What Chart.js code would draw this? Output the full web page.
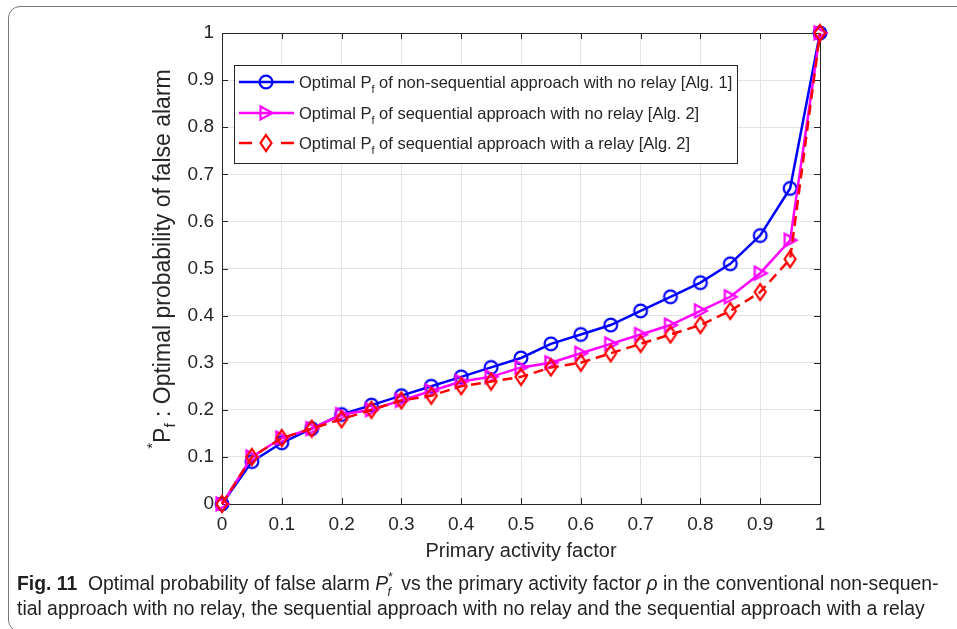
<!DOCTYPE html>
<html>
<head>
<meta charset="utf-8">
<script src="https://cdn.jsdelivr.net/npm/chart.js@4.4.1/dist/chart.umd.min.js"></script>
<style>
  body { margin: 0; background: #fff; width: 957px; height: 629px; overflow: hidden; position: relative; }
  #frame { position: absolute; left: 8px; top: 6px; width: 990px; height: 626px; border: 1.5px solid #777; border-radius: 12px; box-sizing: border-box; }
  #wrap { position: absolute; left: 0; top: 0; width: 957px; height: 570px; }
  #caption { position: absolute; left: 17px; top: 570px; font-family: 'Liberation Sans', Arial, sans-serif; font-size: 20.5px; line-height: 25px; color: #231f20; white-space: nowrap; transform: scaleX(0.944); transform-origin: 0 0; }
  #caption b { font-weight: bold; }
  .pf { display: inline-block; position: relative; font-style: italic; width: 22px; }
  .pf .s { position: absolute; left: 13px; font-size: 13px; }
</style>
</head>
<body>
<div id="frame"></div>
<div id="wrap"><canvas id="chartPf"></canvas></div>
<div id="caption"><b>Fig. 11</b>&nbsp; Optimal probability of false alarm <span class="pf">P<span class="s" style="top:-6px">*</span><span class="s" style="top:9px">f</span></span> vs the primary activity factor <i>ρ</i> in the conventional non-sequen-<br>tial approach with no relay, the sequential approach with no relay and the sequential approach with a relay</div>
<script>
const rho = [0, 0.05, 0.1, 0.15, 0.2, 0.25, 0.3, 0.35, 0.4, 0.45, 0.5, 0.55, 0.6, 0.65, 0.7, 0.75, 0.8, 0.85, 0.9, 0.95, 1]
const pfNonSeq = [0, 0.09, 0.13, 0.16, 0.19, 0.21, 0.23, 0.25, 0.27, 0.29, 0.31, 0.34, 0.36, 0.38, 0.41, 0.44, 0.47, 0.51, 0.57, 0.67, 1]
const pfSeq = [0, 0.10, 0.14, 0.16, 0.19, 0.20, 0.22, 0.24, 0.26, 0.27, 0.29, 0.30, 0.32, 0.34, 0.36, 0.38, 0.41, 0.44, 0.49, 0.56, 1]
const pfRelay = [0, 0.10, 0.14, 0.16, 0.18, 0.20, 0.22, 0.23, 0.25, 0.26, 0.27, 0.29, 0.30, 0.32, 0.34, 0.36, 0.38, 0.41, 0.45, 0.52, 1]
const tickValues = [0, 0.1, 0.2, 0.3, 0.4, 0.5, 0.6, 0.7, 0.8, 0.9, 1]
const legendLabels = [
  ['Optimal P', 'f', ' of non-sequential approach with no relay [Alg. 1]'],
  ['Optimal P', 'f', ' of sequential approach with no relay [Alg. 2]'],
  ['Optimal P', 'f', ' of sequential approach with a relay [Alg. 2]']
]

const BLUE = '#0000ff'
const MAGENTA = '#ff00ff'
const RED = '#ff0000'
const AXIS = '#262626'
const FONT = "'Liberation Sans', Arial, sans-serif"

// marker images, MATLAB style hollow symbols
function marker(kind, color) {
  const c = document.createElement('canvas')
  c.width = 20
  c.height = 20
  const g = c.getContext('2d')
  g.strokeStyle = color
  g.lineWidth = 2.2
  g.beginPath()
  if (kind === 'o') {
    g.arc(10, 10, 6.4, 0, Math.PI * 2)
  } else if (kind === '>') {
    g.moveTo(4.5, 3.5)
    g.lineTo(16.5, 10)
    g.lineTo(4.5, 16.5)
    g.closePath()
  } else {
    g.moveTo(10, 2)
    g.lineTo(15.5, 10)
    g.lineTo(10, 18)
    g.lineTo(4.5, 10)
    g.closePath()
  }
  g.stroke()
  return c
}
const mkCircle = marker('o', BLUE)
const mkTri = marker('>', MAGENTA)
const mkDiamond = marker('d', RED)

const toXY = (ys) => ys.map((y, i) => ({ x: rho[i], y: y }))

const boxPlugin = {
  id: 'box',
  beforeDatasetsDraw(chart) {
    const { ctx, chartArea: a, scales } = chart
    ctx.save()
    ctx.strokeStyle = AXIS
    ctx.lineWidth = 1
    ctx.strokeRect(a.left + 0.5, a.top + 0.5, a.right - a.left, a.bottom - a.top)
    ctx.beginPath()
    tickValues.forEach((v) => {
      const x = Math.round(scales.x.getPixelForValue(v)) + 0.5
      ctx.moveTo(x, a.bottom); ctx.lineTo(x, a.bottom - 6)
      ctx.moveTo(x, a.top); ctx.lineTo(x, a.top + 6)
      const y = Math.round(scales.y.getPixelForValue(v)) + 0.5
      ctx.moveTo(a.left, y); ctx.lineTo(a.left + 6, y)
      ctx.moveTo(a.right, y); ctx.lineTo(a.right - 6, y)
    })
    ctx.stroke()
    ctx.restore()
  },
  afterDraw(chart) {
    const { ctx, chartArea: a } = chart
    ctx.save()
    ctx.fillStyle = AXIS
    // x title
    ctx.font = '20px ' + FONT
    ctx.textAlign = 'center'
    ctx.textBaseline = 'middle'
    ctx.fillText('Primary activity factor', (a.left + a.right) / 2, 551)

    // y title, rotated, with sub/superscript
    ctx.translate(162, 259)
    ctx.rotate(-Math.PI / 2)
    ctx.textAlign = 'left'
    ctx.textBaseline = 'alphabetic'
    const big = '23px ' + FONT
    const small = '15px ' + FONT
    const rest = ' : Optimal probability of false alarm'
    ctx.font = small
    const wStar = ctx.measureText('*').width
    const wF = ctx.measureText('f').width
    ctx.font = big
    const wP = ctx.measureText('P').width
    const wRest = ctx.measureText(rest).width
    let x = -(wStar + wP + wF + wRest) / 2
    ctx.font = small
    ctx.fillText('*', x, -5)
    x += wStar
    ctx.font = big
    ctx.fillText('P', x, 8)
    x += wP
    ctx.font = small
    ctx.fillText('f', x, 13)
    x += wF
    ctx.font = big
    ctx.fillText(rest, x, 8)
    ctx.restore()

    // legend
    ctx.save()
    ctx.fillStyle = '#fff'
    ctx.fillRect(234, 65, 503, 98)
    ctx.strokeStyle = AXIS
    ctx.lineWidth = 1
    ctx.strokeRect(234.5, 65.5, 503, 98)
    const rows = [82, 113, 143]
    const cols = [BLUE, MAGENTA, RED]
    const marks = [mkCircle, mkTri, mkDiamond]
    rows.forEach((ry, i) => {
      ctx.strokeStyle = cols[i]
      ctx.lineWidth = 2.5
      ctx.beginPath()
      if (i === 2) {
        ctx.moveTo(239, ry); ctx.lineTo(252, ry)
        ctx.moveTo(281, ry); ctx.lineTo(294, ry)
      } else {
        ctx.moveTo(239, ry); ctx.lineTo(294, ry)
      }
      ctx.stroke()
      ctx.drawImage(marks[i], 266 - 10, ry - 10)
      const [a1, sub, a2] = legendLabels[i]
      ctx.fillStyle = AXIS
      ctx.textBaseline = 'alphabetic'
      ctx.textAlign = 'left'
      let tx = 299
      ctx.font = '16.5px ' + FONT
      ctx.fillText(a1, tx, ry + 6)
      tx += ctx.measureText(a1).width
      ctx.font = '11px ' + FONT
      ctx.fillText(sub, tx, ry + 11)
      tx += ctx.measureText(sub).width
      ctx.font = '16.5px ' + FONT
      ctx.fillText(a2, tx, ry + 6)
    })
    ctx.restore()
  }
}

const ctx = document.getElementById('chartPf').getContext('2d')
const tickFmt = (v) => String(Number(v.toFixed(1)))

new Chart(ctx, {
  type: 'line',
  data: {
    datasets: [
      {
        label: 'Optimal Pf of non-sequential approach with no relay [Alg. 1]',
        data: toXY(pfNonSeq),
        borderColor: BLUE,
        borderWidth: 2.5,
        pointStyle: mkCircle,
        pointRadius: 7,
        order: 3,
        clip: false
      },
      {
        label: 'Optimal Pf of sequential approach with no relay [Alg. 2]',
        data: toXY(pfSeq),
        borderColor: MAGENTA,
        borderWidth: 2.5,
        pointStyle: mkTri,
        pointRadius: 7,
        order: 2,
        clip: false
      },
      {
        label: 'Optimal Pf of sequential approach with a relay [Alg. 2]',
        data: toXY(pfRelay),
        borderColor: RED,
        borderWidth: 2.5,
        borderDash: [10, 6],
        pointStyle: mkDiamond,
        pointRadius: 7,
        order: 1,
        clip: false
      }
    ]
  },
  options: {
    animation: false,
    responsive: true,
    maintainAspectRatio: false,
    layout: { padding: { left: 0, right: 137, top: 33, bottom: 0 } },
    scales: {
      x: {
        type: 'linear',
        min: 0,
        max: 1,
        afterFit: (s) => { s.height = 66 },
        afterBuildTicks: (s) => { s.ticks = tickValues.map((v) => ({ value: v })) },
        grid: { color: '#e3e3e3', drawTicks: false },
        border: { display: false },
        ticks: { callback: tickFmt, color: AXIS, font: { family: FONT, size: 19 }, padding: 9, maxRotation: 0 }
      },
      y: {
        type: 'linear',
        min: 0,
        max: 1,
        afterFit: (s) => { s.width = 222 },
        afterBuildTicks: (s) => { s.ticks = tickValues.map((v) => ({ value: v })) },
        grid: { color: '#e3e3e3', drawTicks: false },
        border: { display: false },
        ticks: { callback: tickFmt, color: AXIS, font: { family: FONT, size: 19 }, padding: 8 }
      }
    },
    plugins: {
      legend: { display: false },
      tooltip: { enabled: false }
    }
  },
  plugins: [boxPlugin]
})
</script>
</body>
</html>
